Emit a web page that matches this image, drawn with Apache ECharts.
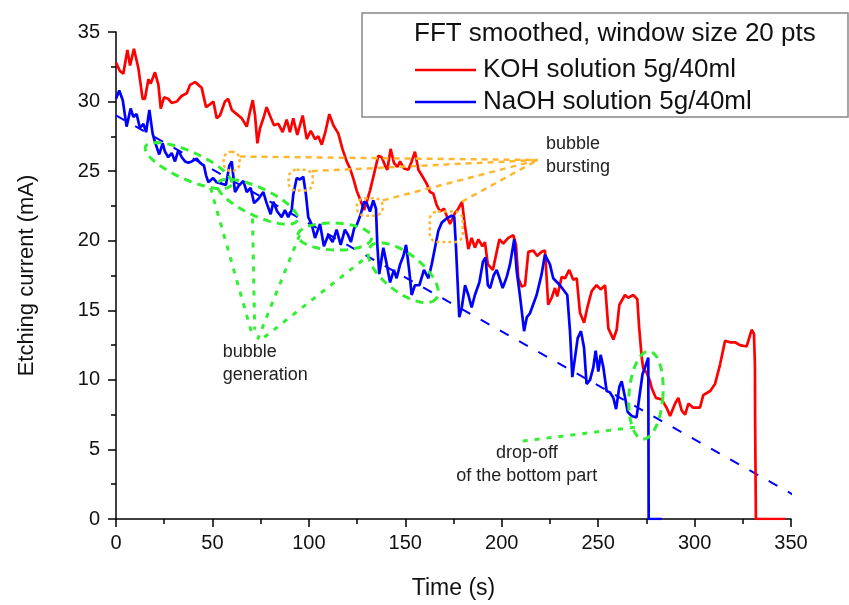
<!DOCTYPE html>
<html>
<head>
<meta charset="utf-8">
<script src="https://cdn.jsdelivr.net/npm/echarts@6/dist/echarts.min.js"></script>
<style>
  html, body { margin: 0; padding: 0; background: #fff; }
  #main { width: 849px; height: 605px; }
</style>
</head>
<body>
<div id="main"></div>
<script>
// KOH solution: [time (s), current (mA)]
const kohPoints = [
  [0,32.8],[2,32.2],[3.8,32.0],[5.9,33.7],[7.3,32.6],[9.3,33.8],[11.6,32.4],[13.8,30.2],[15,30.2],[16.8,31.6],
  [18,31.3],[20.2,32.1],[22,31.2],[23.2,29.5],[24.9,30.3],[27.1,30.2],[28.9,29.9],[31.5,30.0],[34,30.4],[36.7,30.6],
  [38.4,31.2],[41,31.4],[42.7,31.2],[44.4,31.0],[46.7,29.6],[48.7,29.8],[50.5,30.0],[52.2,28.8],[53.9,29.0],[56.5,30.0],
  [58.2,30.2],[60,29.4],[62.6,29.1],[65.2,28.8],[67.8,28.2],[69.5,29.3],[70.9,30.1],[72.1,29.0],[73.3,27.0],[74.7,28.1],
  [76.4,28.8],[78.1,29.6],[79.8,29.0],[81.9,28.3],[84.2,28.4],[86.4,27.8],[88.5,28.7],[90.2,27.8],[91.9,28.8],[94,27.6],
  [96.8,29.0],[98.9,27.3],[101,27.9],[103.2,27.3],[104.9,27.5],[106.7,26.9],[108.7,27.9],[110.6,29.1],[112.7,28.3],[115.3,27.7],
  [117.4,26.6],[119.6,25.7],[121.3,25.2],[123,24.5],[124.8,23.6],[126.5,23.0],[128.6,22.2],[130,22.8],[131.7,23.6],[133.8,24.8],
  [136,26.1],[137.8,26.0],[139.5,25.4],[140.7,25.1],[142.4,26.6],[144.1,25.6],[145.9,25.3],[147.3,25.7],[149.3,25.2],[151.6,25.1],
  [153.3,25.7],[155,26.4],[156.8,25.1],[159,24.6],[161.1,24.1],[162.8,23.5],[164.5,23.4],[166.2,22.6],[168,22.1],[170.1,22.3],
  [172,21.6],[173.2,21.2],[175.8,22.0],[177.5,22.3],[179.4,22.8],[181,21.0],[182.7,19.4],[184.4,20.2],[186.1,19.5],[187.9,20.1],
  [190,19.6],[191.3,19.9],[192.8,18.3],[195.4,17.9],[197.4,19.2],[198.8,20.1],[200.8,19.8],[203.4,20.2],[206,20.4],[207.4,19.7],
  [208.6,17.3],[210.4,16.7],[212.1,16.8],[213.8,19.2],[216.4,19.3],[218.4,18.9],[220.7,19.2],[222.4,19.3],[223.3,17.3],[224.1,15.4],
  [225.9,15.9],[227.6,16.6],[228.8,16.0],[231.1,17.4],[232.8,17.3],[235,17.9],[237.1,17.2],[238.9,17.3],[240.6,14.8],[242.7,14.1],
  [244.4,15.2],[246.7,16.4],[249.2,16.8],[251.3,16.5],[253.6,16.8],[255.3,13.7],[257.9,12.9],[259.6,13.6],[261,15.4],[263.9,16.1],
  [265.6,15.9],[268.2,16.1],[270.3,15.8],[271.3,13.7],[272.6,11.6],[273.4,10.8],[275.2,10.5],[276.9,9.9],[277.8,9.4],[280,8.7],
  [282.9,8.6],[285.5,8.0],[287.3,7.4],[289.9,8.3],[291.6,8.7],[293.3,7.8],[295.1,7.5],[296.8,8.3],[299.3,8.0],[302.8,8.0],
  [304.5,8.9],[308.1,9.2],[310.6,9.7],[313.2,11.1],[315.8,12.8],[318.4,12.7],[321,12.7],[323.5,12.5],[327,12.4],[328.3,13.0],
  [329.6,13.6],[330.8,13.3],[331.3,11.1],[331.4,7.1],[331.8,0],[347,0]
];

// NaOH solution: [time (s), current (mA)]
const naohPoints = [
  [0,30.2],[1.7,30.8],[3.5,30.1],[5.5,28.2],[7.6,29.5],[9,28.9],[10.7,29.1],[12.4,28.1],[14.2,28.4],[15.6,27.8],
  [17.3,29.4],[19,27.7],[20.2,27.1],[22.4,26.2],[24.2,27.0],[25.4,26.4],[27.1,26.0],[28.9,26.3],[30.6,25.7],[32.3,26.5],
  [34.1,26.0],[35.8,25.7],[37.5,25.6],[39.3,25.7],[41.8,25.9],[43.6,25.6],[45.6,25.4],[46.7,24.7],[47.9,24.2],[50.4,24.5],
  [52.2,24.2],[54.8,24.1],[57,24.0],[58.8,25.4],[60,25.7],[61.7,23.5],[63.4,23.9],[66,24.3],[67.8,23.5],[69.8,23.8],
  [71.6,22.7],[73.8,23.0],[76.4,23.5],[78.1,22.7],[80.2,21.9],[81.6,22.8],[83.6,22.1],[85.9,21.7],[87.6,22.2],[89.3,21.7],
  [91.1,22.2],[91.9,23.3],[93.7,24.5],[95.4,24.4],[97.1,24.6],[98.5,23.3],[99.7,21.7],[101.4,21.2],[103.2,20.2],[105.8,21.2],
  [107.8,19.6],[110,20.4],[112.3,19.9],[114.4,20.8],[116.5,19.7],[118.7,20.8],[120.4,20.4],[121.8,19.9],[123.5,20.9],[124.8,21.1],
  [126.9,21.9],[128.6,22.8],[130,22.7],[131.7,22.1],[133.4,22.9],[134.8,22.3],[135.5,19.7],[136.5,17.6],[138.6,19.5],[140.4,18.3],
  [142.1,17.0],[144.1,17.9],[145.5,17.3],[147.3,18.3],[149,18.9],[150.4,19.7],[152.1,17.8],[153.3,16.1],[155,16.8],[157.3,16.8],
  [159.7,17.9],[162,17.3],[163.7,18.3],[165.4,19.5],[167.1,20.7],[168.9,21.3],[171.4,21.6],[174,21.8],[175.4,21.7],[176.3,19.5],
  [177.2,16.8],[178,14.5],[179.3,15.2],[181,16.8],[182.7,16.1],[184.4,15.2],[186.1,16.1],[188.4,17.0],[190.3,18.5],[191.6,18.8],
  [192.8,16.8],[194,16.6],[195.8,17.5],[197.4,17.9],[199.1,17.2],[200.5,16.6],[202.6,17.4],[204.3,18.3],[205.4,19.2],[206.5,20.1],
  [207.8,17.8],[209.5,16.0],[211.6,13.5],[213,14.5],[214.7,14.8],[218.1,16.1],[220.7,17.6],[222.4,19.0],[225,18.3],[226.7,17.3],
  [230.2,16.8],[234,16.1],[235.4,13.5],[236.6,10.2],[238,11.6],[239.4,13.0],[241.1,13.5],[242.7,12.3],[244,9.7],[245.8,10.0],
  [247.5,10.9],[248.7,12.1],[250.1,10.6],[251.3,11.8],[252.7,10.9],[254.4,9.2],[256.1,9.1],[257.9,8.7],[259.3,7.9],[261,9.5],
  [262.2,9.9],[264,8.7],[265.3,7.7],[267.4,7.4],[269.9,7.3],[271.3,8.7],[273,10.4],[274.3,10.9],[276,11.6],[276.2,0],[283,0]
];

// baseline trend of NaOH (dashed)
const naohTrend = [[0, 29.0], [355.6, 1.4]];

const xTicks = { min: 0, max: 350, interval: 50 };
const yTicks = { min: 0, max: 35, interval: 5 };

// annotation anchors in data coords
// ellipses: [cx, cy, rx(px), ry(px), rotation(deg)]
const bubbleEllipses = [
  [37.6, 25.4, 47, 14, 24],
  [73.4, 22.8, 44, 14, 25],
  [113.4, 20.3, 37, 13.5, 2],
  [148.9, 17.7, 42, 19, 38]
];
const dropEllipse = [274.8, 8.9, 17, 44, 4];
const generationLines = [
  [[49.0, 23.8], [70.3, 13.4]],
  [[70.8, 21.6], [71.9, 13.6]],
  [[95.2, 20.4], [73.4, 12.9]],
  [[127.9, 18.6], [74.5, 12.8]]
];
const dropLine = [[210.9, 5.6], [269.1, 6.6]];
// bursting boxes: [x1, y1, x2, y2]
const burstBoxes = [
  [55.8, 26.4, 64.1, 25.0],
  [89.5, 25.1, 102.0, 23.6],
  [124.8, 23.05, 138.3, 21.8],
  [162.7, 22.1, 179.8, 19.9]
];
const burstTarget = [218.7, 25.8];
const burstStarts = [[64.1, 26.05], [101.5, 25.0], [138.3, 22.9], [179.3, 22.8]];
const labelGeneration = [55.3, 11.2];
const labelBursting = [222.9, 26.1];
const labelDrop = [213.0, 3.95];

const FONT = 'Liberation Sans, Arial, Helvetica, sans-serif';
const GREEN = '#33ee33';
const ORANGE = '#ffb733';

const chart = echarts.init(document.getElementById('main'));

const axisCommon = {
  axisLine: { show: true, lineStyle: { color: '#000', width: 1.5 } },
  axisTick: { show: true, inside: false, length: 8, lineStyle: { color: '#000', width: 1.5 } },
  minorTick: { show: true, splitNumber: 2, length: 5, lineStyle: { color: '#000', width: 1.5 } },
  splitLine: { show: false },
  axisLabel: { color: '#111', fontSize: 20, fontFamily: FONT }
};

chart.setOption({
  animation: false,
  backgroundColor: '#fff',
  grid: { left: 116, right: 58, top: 32, bottom: 83, containLabel: false },
  legend: {
    orient: 'vertical',
    left: 410,
    top: 52,
    icon: 'rect',
    itemWidth: 61,
    itemHeight: 2.5,
    itemGap: 6,
    textStyle: { fontSize: 26, fontFamily: FONT, color: '#111', padding: [0, 0, 0, 2] },
    data: ['KOH solution 5g/40ml', 'NaOH solution 5g/40ml']
  },
  xAxis: Object.assign({}, axisCommon, {
    type: 'value',
    min: xTicks.min, max: xTicks.max, interval: xTicks.interval,
    name: 'Time (s)',
    nameLocation: 'middle',
    nameGap: 58,
    nameTextStyle: { fontSize: 23, fontFamily: FONT, color: '#111' },
    axisLabel: Object.assign({}, axisCommon.axisLabel, { margin: 14 })
  }),
  yAxis: Object.assign({}, axisCommon, {
    type: 'value',
    min: yTicks.min, max: yTicks.max, interval: yTicks.interval,
    name: 'Etching current (mA)',
    nameLocation: 'middle',
    nameGap: 78,
    nameTextStyle: { fontSize: 22, fontFamily: FONT, color: '#111' },
    axisLabel: Object.assign({}, axisCommon.axisLabel, { margin: 16 })
  }),
  series: [
    {
      name: 'NaOH trend',
      type: 'line',
      data: naohTrend,
      symbol: 'none',
      clip: false,
      lineStyle: { color: '#0000ff', width: 2, type: [10, 12] },
      z: 1
    },
    {
      name: 'KOH solution 5g/40ml',
      type: 'line',
      data: kohPoints,
      symbol: 'none',
      itemStyle: { color: '#ff0000' },
      lineStyle: { color: '#ff0000', width: 2.7 },
      z: 2
    },
    {
      name: 'NaOH solution 5g/40ml',
      type: 'line',
      data: naohPoints,
      symbol: 'none',
      itemStyle: { color: '#0000ff' },
      lineStyle: { color: '#0000ff', width: 2.7 },
      z: 3
    }
  ]
});

const px = p => chart.convertToPixel({ gridIndex: 0 }, p);

function ellipsePoints(e) {
  const c = px([e[0], e[1]]);
  const a = e[4] * Math.PI / 180;
  const pts = [];
  for (let i = 0; i <= 72; i++) {
    const t = 2 * Math.PI * i / 72;
    const x = e[2] * Math.cos(t), y = e[3] * Math.sin(t);
    pts.push([c[0] + x * Math.cos(a) - y * Math.sin(a), c[1] + x * Math.sin(a) + y * Math.cos(a)]);
  }
  return pts;
}

const graphics = [];

// legend box + header
graphics.push({
  type: 'rect', shape: { x: 362, y: 13, width: 486, height: 104 },
  style: { fill: 'none', stroke: '#888', lineWidth: 1.5 }, z: 50
});
graphics.push({
  type: 'text', x: 414, y: 34,
  style: { text: 'FFT smoothed, window size 20 pts', font: '26px ' + FONT, fill: '#111', verticalAlign: 'middle' },
  z: 50
});

bubbleEllipses.concat([dropEllipse]).forEach(e => {
  graphics.push({
    type: 'polyline', shape: { points: ellipsePoints(e) },
    style: { stroke: GREEN, lineWidth: 3, fill: null, lineDash: [8, 6] }, z: 60
  });
});

generationLines.concat([dropLine]).forEach(l => {
  const a = px(l[0]), b = px(l[1]);
  graphics.push({
    type: 'line', shape: { x1: a[0], y1: a[1], x2: b[0], y2: b[1] },
    style: { stroke: GREEN, lineWidth: 3, lineDash: [5, 7] }, z: 60
  });
});

burstBoxes.forEach(b => {
  const p1 = px([b[0], b[1]]), p2 = px([b[2], b[3]]);
  graphics.push({
    type: 'rect',
    shape: { x: p1[0], y: p1[1], width: p2[0] - p1[0], height: p2[1] - p1[1], r: 8 },
    style: { stroke: ORANGE, lineWidth: 2.5, fill: null, lineDash: [3, 3] }, z: 60
  });
});

const tgt = px(burstTarget);
burstStarts.forEach(s => {
  const a = px(s);
  graphics.push({
    type: 'line', shape: { x1: a[0], y1: a[1], x2: tgt[0], y2: tgt[1] },
    style: { stroke: ORANGE, lineWidth: 2.5, lineDash: [6, 5] }, z: 60
  });
});

const lg = px(labelGeneration);
graphics.push({
  type: 'text', x: lg[0], y: lg[1],
  style: { text: 'bubble\ngeneration', font: '18px ' + FONT, fill: '#222', lineHeight: 23, verticalAlign: 'middle' },
  z: 70
});
const lb = px(labelBursting);
graphics.push({
  type: 'text', x: lb[0], y: lb[1],
  style: { text: 'bubble\nbursting', font: '18px ' + FONT, fill: '#222', lineHeight: 23, verticalAlign: 'middle' },
  z: 70
});
const ld = px(labelDrop);
graphics.push({
  type: 'text', x: ld[0], y: ld[1],
  style: { text: 'drop-off\nof the bottom part', font: '18px ' + FONT, fill: '#222', lineHeight: 23, align: 'center', verticalAlign: 'middle' },
  z: 70
});

chart.setOption({ graphic: graphics });
</script>
</body>
</html>
